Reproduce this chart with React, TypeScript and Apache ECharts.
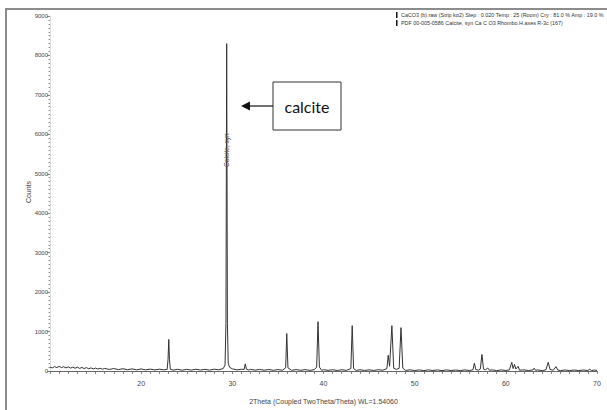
import React, { useEffect, useRef } from "react";
import * as echarts from "echarts";

// Measured pattern: [2theta (deg), counts]
const pattern: [number, number][] = [
  [10.0, 100], [10.25, 78], [10.5, 112], [10.75, 84], [11.0, 118], [11.25, 86], [11.5, 108], [11.75, 80],
  [12.0, 106], [12.25, 74], [12.5, 98], [12.75, 70], [13.0, 96], [13.25, 66], [13.5, 90], [13.75, 62],
  [14.0, 86], [14.25, 56], [14.5, 80], [14.75, 52], [15.0, 74], [15.25, 48], [15.5, 70], [15.75, 44],
  [16.0, 66], [16.5, 40], [17.0, 62], [17.5, 36], [18.0, 58], [18.5, 32], [19.0, 54], [19.5, 30],
  [20.0, 52], [20.5, 28], [21.0, 48], [21.5, 26], [22.0, 46], [22.5, 28], [22.85, 40], [22.95, 300],
  [23.03, 800], [23.1, 300], [23.2, 45], [23.5, 22], [24.0, 44], [24.5, 20], [25.0, 42], [25.5, 22],
  [26.0, 44], [26.5, 24], [27.0, 42], [27.5, 22], [28.0, 46], [28.5, 30], [29.0, 62], [29.2, 150],
  [29.3, 1200], [29.38, 8300], [29.46, 1200], [29.55, 200], [29.7, 95], [30.0, 55], [30.5, 28],
  [31.0, 44], [31.3, 40], [31.42, 180], [31.55, 45], [31.8, 24], [32.0, 42], [32.5, 22], [33.0, 40],
  [33.5, 20], [34.0, 38], [34.5, 18], [35.0, 36], [35.5, 20], [35.85, 80], [35.97, 950], [36.1, 80],
  [36.5, 18], [37.0, 36], [37.5, 18], [38.0, 34], [38.5, 16], [39.0, 36], [39.25, 100], [39.4, 1250],
  [39.55, 100], [39.8, 16], [40.0, 34], [40.5, 16], [41.0, 32], [41.5, 14], [42.0, 32], [42.5, 16],
  [43.0, 60], [43.15, 1150], [43.3, 60], [43.6, 14], [44.0, 32], [44.5, 14], [45.0, 30], [45.5, 14],
  [46.0, 32], [46.5, 20], [46.95, 60], [47.1, 400], [47.25, 120], [47.5, 1150], [47.7, 70], [48.0, 40],
  [48.3, 70], [48.5, 1100], [48.7, 70], [49.0, 14], [49.5, 30], [50.0, 12], [50.5, 28], [51.0, 10],
  [51.5, 28], [52.0, 12], [52.5, 28], [53.0, 10], [53.5, 28], [54.0, 12], [54.5, 26], [55.0, 10],
  [55.5, 28], [56.0, 12], [56.4, 30], [56.55, 200], [56.7, 40], [57.0, 20], [57.2, 50], [57.38, 420],
  [57.55, 50], [57.8, 30], [58.0, 80], [58.2, 20], [58.5, 28], [59.0, 10], [59.5, 28], [60.0, 12],
  [60.4, 30], [60.65, 220], [60.8, 60], [60.95, 170], [61.1, 50], [61.35, 120], [61.5, 20], [62.0, 28],
  [62.5, 10], [63.0, 30], [63.1, 70], [63.25, 20], [63.5, 26], [64.0, 10], [64.4, 30], [64.65, 220],
  [64.85, 40], [65.2, 20], [65.5, 110], [65.7, 24], [66.0, 10], [66.5, 26], [67.0, 10], [67.5, 26],
  [68.0, 10], [68.5, 26], [69.0, 12], [69.2, 45], [69.4, 12], [69.7, 24], [70.0, 14],
];

const yTicks = [0, 1000, 2000, 3000, 4000, 5000, 6000, 7000, 8000, 9000];
const refPeakLabel = "Calcite, syn";
const refPeakPos: [number, number] = [29.4, 5600];
const legendLines = [
  "CaCO3 (b).raw (Strip kα2) Step : 0.020 Temp : 25 (Room) Cry : 81.0 % Amp : 19.0 %",
  "PDF 00-005-0586 Calcite, syn Ca C O3 Rhombo.H.axes R-3c (167)",
];
const xTitle = "2Theta (Coupled TwoTheta/Theta) WL=1.54060";
const yTitle = "Counts";
const annotation = "calcite";

export default function App() {
  const ref = useRef<HTMLDivElement>(null);
  useEffect(() => {
    if (!ref.current) return;
    const chart = echarts.init(ref.current, null, { renderer: "svg" });
    const font = "Liberation Sans";
    chart.setOption({
      animation: false,
      backgroundColor: "#fff",
      grid: { left: 50, right: 10, top: 16, bottom: 33 },
      xAxis: {
        type: "value",
        min: 10,
        max: 70,
        interval: 1,
        name: xTitle,
        nameLocation: "middle",
        nameGap: 27,
        nameTextStyle: { fontSize: 7, color: "#444", fontFamily: font },
        axisLine: { lineStyle: { color: "#666", width: 1 } },
        axisTick: { show: true, length: 3, inside: false, lineStyle: { color: "#666", width: 0.8 } },
        axisLabel: {
          fontSize: 7,
          color: "#444",
          fontFamily: font,
          margin: 9,
          formatter: (v: number) => (v % 10 === 0 && v !== 10 ? String(v) : ""),
        },
        splitLine: { show: false },
      },
      yAxis: {
        type: "value",
        min: yTicks[0],
        max: yTicks[yTicks.length - 1],
        interval: 1000,
        axisLine: { show: true, lineStyle: { color: "#bbb", width: 0.5 } },
        axisTick: { show: true, length: 3, lineStyle: { color: "#666", width: 0.8 } },
        minorTick: { show: true, splitNumber: 10, length: 1.5, lineStyle: { color: "#777", width: 0.8 } },
        axisLabel: {
          fontSize: 6,
          color: "#444",
          fontFamily: font,
          margin: 2,
          formatter: (v: number) => String(v),
        },
        splitLine: { show: false },
      },
      series: [
        {
          type: "line",
          data: pattern,
          showSymbol: false,
          symbol: "none",
          lineStyle: { color: "#333", width: 1 },
          markPoint: {
            symbol: "circle",
            symbolSize: 0,
            data: [
              {
                coord: refPeakPos,
                label: {
                  show: true,
                  formatter: refPeakLabel,
                  rotate: 90,
                  fontSize: 6.5,
                  color: "#555",
                  fontFamily: font,
                  position: "inside",
                },
              },
            ],
          },
        },
      ],
      graphic: [
        { type: "rect", shape: { x: 5, y: 8, width: 602, height: 2 }, style: { fill: "#8c8c8c" } },
        { type: "rect", shape: { x: 5, y: 8, width: 2, height: 402 }, style: { fill: "#8c8c8c" } },
        {
          type: "text",
          x: 28,
          y: 192,
          rotation: Math.PI / 2,
          style: {
            text: yTitle,
            fontSize: 7,
            fill: "#444",
            fontFamily: font,
            align: "center",
            verticalAlign: "middle",
          },
        },
        { type: "rect", shape: { x: 396, y: 12, width: 1.5, height: 6 }, style: { fill: "#111" } },
        { type: "rect", shape: { x: 396, y: 20, width: 1.5, height: 6 }, style: { fill: "#111" } },
        {
          type: "text",
          x: 401,
          y: 15,
          style: { text: legendLines[0], fontSize: 5.4, fill: "#333", fontFamily: font, verticalAlign: "middle" },
        },
        {
          type: "text",
          x: 401,
          y: 23,
          style: { text: legendLines[1], fontSize: 5.4, fill: "#333", fontFamily: font, verticalAlign: "middle" },
        },
        {
          type: "rect",
          shape: { x: 273, y: 82, width: 68, height: 48 },
          style: { fill: "#fff", stroke: "#333", lineWidth: 1 },
        },
        {
          type: "text",
          x: 307,
          y: 106,
          style: {
            text: annotation,
            fontSize: 16,
            fill: "#111",
            fontFamily: "Lato",
            align: "center",
            verticalAlign: "middle",
          },
        },
        {
          type: "line",
          shape: { x1: 273, y1: 106, x2: 248, y2: 106 },
          style: { stroke: "#111", lineWidth: 1.2 },
        },
        {
          type: "polygon",
          shape: { points: [[241, 106], [250, 101.5], [250, 110.5]] },
          style: { fill: "#111" },
        },
      ],
    });
    return () => chart.dispose();
  }, []);
  return (
    <div
      ref={ref}
      style={{ position: "fixed", left: 0, top: 0, width: 607, height: 410 }}
    />
  );
}
